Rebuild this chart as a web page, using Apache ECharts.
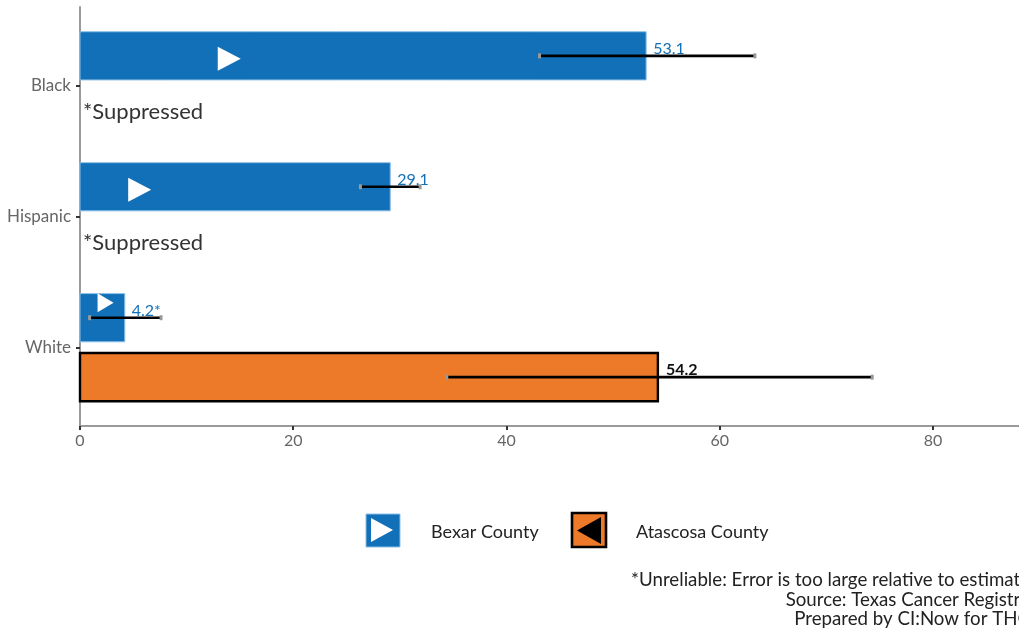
<!DOCTYPE html>
<html>
<head>
<meta charset="utf-8">
<script src="https://cdn.jsdelivr.net/npm/echarts@6/dist/echarts.min.js"></script>
<style>
html,body{margin:0;padding:0;background:#fff;}
#chart{width:1019px;height:633px;}
</style>
</head>
<body>
<div id="chart"></div>
<script>
// ---- data ----
const categories = ['White', 'Hispanic', 'Black'];
const bexarValues = [4.2, 29.1, 53.1];
const bexarLow = [0.9, 26.3, 43.1];
const bexarHigh = [7.6, 31.9, 63.3];
const bexarLabels = ['4.2*', '29.1', '53.1'];
const bexarMarkerX = [2.4, 5.6, 14.0];
const atascosaValues = [54.2, null, null];
const atascosaLow = [34.4, null, null];
const atascosaHigh = [74.3, null, null];
const atascosaLabels = ['54.2', '*Suppressed', '*Suppressed'];
const xTicks = [0, 20, 40, 60, 80];
const seriesNames = ['Bexar County', 'Atascosa County'];
const footnotes = [
  '*Unreliable: Error is too large relative to estimate',
  'Source: Texas Cancer Registry',
  'Prepared by CI:Now for THC'
];

const FONT = 'Lato';
const BLUE = '#1170B7';
const ORANGE = '#EC7A28';
const OFF = 0.227;   // dodge offset (category units)
const HALF = 0.184;  // half bar thickness (category units)

const chart = echarts.init(document.getElementById('chart'), null, {renderer: 'canvas'});

function errorBar(api, y, lo, hi) {
  const a = api.coord([lo, y]);
  const b = api.coord([hi, y]);
  return [
    {type: 'line', shape: {x1: a[0], y1: a[1], x2: b[0], y2: b[1]}, style: {stroke: '#000', lineWidth: 2.6}},
    {type: 'rect', shape: {x: a[0] - 1.5, y: a[1] - 2.5, width: 3, height: 5}, style: {fill: '#999'}},
    {type: 'rect', shape: {x: b[0] - 1.5, y: b[1] - 2.5, width: 3, height: 5}, style: {fill: '#999'}}
  ];
}

const option = {
  animation: false,
  backgroundColor: '#fff',
  grid: {left: 80, right: 0, top: 7, bottom: 207, containLabel: false},
  xAxis: {
    type: 'value', min: 0, max: 88.07, interval: 20,
    axisLine: {show: true, lineStyle: {color: '#9a9a9a', width: 2}},
    axisTick: {show: true, customValues: xTicks, length: 4, lineStyle: {color: '#333', width: 2}},
    axisLabel: {customValues: xTicks, color: '#666', fontSize: 16, fontFamily: FONT, margin: 7},
    splitLine: {show: false}
  },
  yAxis: {
    type: 'value', min: 0.4, max: 3.6,
    axisLine: {show: true, onZero: false, lineStyle: {color: '#9a9a9a', width: 2}},
    axisTick: {show: true, customValues: [1, 2, 3], length: 4, lineStyle: {color: '#333', width: 2}},
    axisLabel: {
      customValues: [1, 2, 3], color: '#666', fontSize: 17, fontFamily: FONT, margin: 9,
      formatter: v => categories[Math.round(v) - 1] || ''
    },
    splitLine: {show: false}
  },
  series: [
    {
      name: seriesNames[0],
      type: 'custom',
      encode: {x: 1, y: 0},
      data: categories.map((c, i) => [i + 1, bexarValues[i]]),
      renderItem: function (params, api) {
        const i = params.dataIndex;
        const y = api.value(0) + OFF;
        const v = api.value(1);
        const p0 = api.coord([0, y + HALF]);
        const p1 = api.coord([v, y - HALF]);
        const children = [{
          type: 'rect',
          shape: {x: p0[0], y: p0[1], width: p1[0] - p0[0], height: p1[1] - p0[1]},
          style: {fill: BLUE, stroke: '#8cc0e8', lineWidth: 1}
        }];
        // white triangle marker
        const m = api.coord([bexarMarkerX[i], y]);
        const small = i === 0;
        const w = small ? 16 : 23, h = small ? 19 : 24;
        const cy = small ? m[1] - 15 : m[1] + 3;
        children.push({
          type: 'polygon',
          shape: {points: [[m[0] - w / 2, cy - h / 2], [m[0] - w / 2, cy + h / 2], [m[0] + w / 2, cy]]},
          style: {fill: '#fff'}
        });
        children.push(...errorBar(api, y, bexarLow[i], bexarHigh[i]));
        children.push({
          type: 'text',
          style: {
            text: bexarLabels[i], x: p1[0] + 7, y: m[1] - 7,
            fill: BLUE, fontSize: 16, fontFamily: FONT, align: 'left', verticalAlign: 'middle'
          }
        });
        return {type: 'group', children: children};
      }
    },
    {
      name: seriesNames[1],
      type: 'custom',
      encode: {x: 1, y: 0},
      data: categories.map((c, i) => [i + 1, atascosaValues[i] == null ? 0 : atascosaValues[i]]),
      renderItem: function (params, api) {
        const i = params.dataIndex;
        const y = api.value(0) - OFF;
        const mid = api.coord([0, y]);
        if (atascosaValues[i] == null) {
          return {
            type: 'text',
            style: {
              text: atascosaLabels[i], x: mid[0] + 3, y: mid[1] - 3,
              fill: '#333', fontSize: 22, fontFamily: FONT, align: 'left', verticalAlign: 'middle'
            }
          };
        }
        const v = api.value(1);
        const p0 = api.coord([0, y + HALF]);
        const p1 = api.coord([v, y - HALF]);
        const children = [{
          type: 'rect',
          shape: {x: p0[0], y: p0[1], width: p1[0] - p0[0], height: p1[1] - p0[1]},
          style: {fill: ORANGE, stroke: '#000', lineWidth: 2.4}
        }];
        children.push(...errorBar(api, y, atascosaLow[i], atascosaHigh[i]));
        children.push({
          type: 'text',
          style: {
            text: atascosaLabels[i], x: p1[0] + 8, y: mid[1] - 7,
            fill: '#111', fontSize: 16, fontWeight: 'bold', fontFamily: FONT, align: 'left', verticalAlign: 'middle'
          }
        });
        return {type: 'group', children: children};
      }
    }
  ],
  graphic: [
    // legend: Bexar
    {type: 'rect', shape: {x: 366, y: 514, width: 34, height: 33}, style: {fill: BLUE, stroke: '#8cc0e8', lineWidth: 1}},
    {type: 'polygon', shape: {points: [[371, 518], [371, 542], [393, 530]]}, style: {fill: '#fff'}},
    {type: 'text', style: {text: seriesNames[0], x: 431, y: 532, fill: '#222', fontSize: 18, fontFamily: FONT, align: 'left', verticalAlign: 'middle'}},
    // legend: Atascosa
    {type: 'rect', shape: {x: 572, y: 513, width: 34, height: 34}, style: {fill: ORANGE, stroke: '#000', lineWidth: 2.6}},
    {type: 'polygon', shape: {points: [[601, 517], [601, 544], [577, 530.5]]}, style: {fill: '#000'}},
    {type: 'text', style: {text: seriesNames[1], x: 636, y: 532, fill: '#222', fontSize: 18, fontFamily: FONT, align: 'left', verticalAlign: 'middle'}},
    // footnotes
    {type: 'text', style: {text: footnotes[0], x: 1030, y: 580, fill: '#222', fontSize: 18.7, fontFamily: FONT, align: 'right', verticalAlign: 'middle'}},
    {type: 'text', style: {text: footnotes[1], x: 1030, y: 600, fill: '#222', fontSize: 18.7, fontFamily: FONT, align: 'right', verticalAlign: 'middle'}},
    {type: 'text', style: {text: footnotes[2], x: 1030, y: 619, fill: '#222', fontSize: 18.7, fontFamily: FONT, align: 'right', verticalAlign: 'middle'}}
  ]
};
chart.setOption(option);
</script>
</body>
</html>
